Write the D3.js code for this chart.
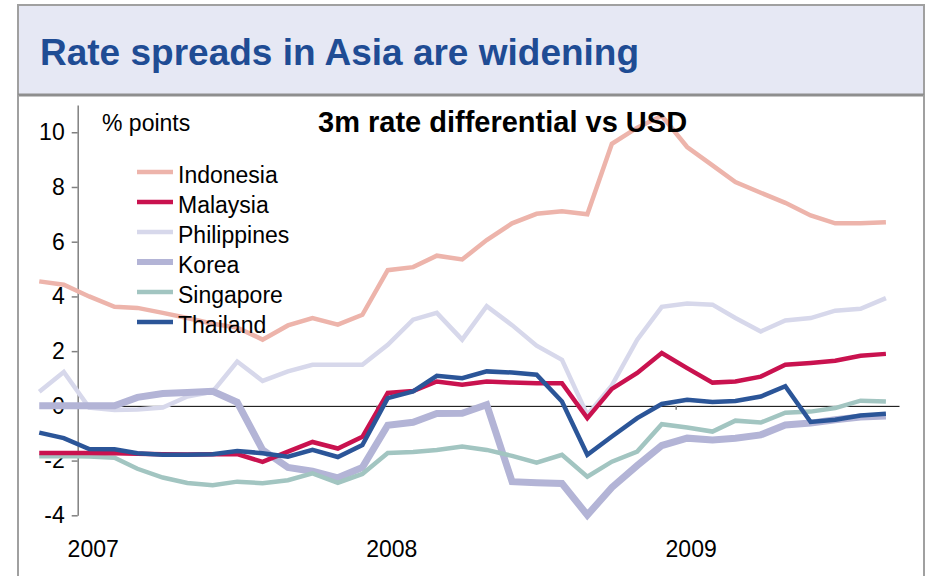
<!DOCTYPE html>
<html>
<head>
<meta charset="utf-8">
<script src="https://cdn.jsdelivr.net/npm/d3@7"></script>
<style>
  html, body { margin: 0; padding: 0; background: #ffffff; }
  svg { display: block; font-family: Arial, "Liberation Sans", Helvetica, sans-serif; }
</style>
</head>
<body>
<svg id="chart" width="927" height="576"></svg>
<script>
// Monthly observations, Nov 2006 to Sep 2009 (plotted mid-month)
const months = d3.timeMonth.range(new Date(2006, 10, 1), new Date(2009, 9, 1));

const indonesia = [4.55, 4.43, 4.0, 3.62, 3.58, 3.4, 3.21, 3.0, 2.86, 2.42, 2.94, 3.21, 2.97, 3.33, 4.96, 5.07, 5.49, 5.35, 6.06, 6.67, 7.02, 7.11, 7.0, 9.58, 10.17, 10.6, 9.46, 8.79, 8.18, 7.79, 7.42, 6.96, 6.67, 6.67, 6.71];
const malaysia = [-1.72, -1.72, -1.72, -1.73, -1.75, -1.77, -1.78, -1.77, -1.76, -2.05, -1.67, -1.32, -1.56, -1.13, 0.47, 0.54, 0.89, 0.77, 0.89, 0.85, 0.83, 0.83, -0.45, 0.62, 1.2, 1.93, 1.38, 0.85, 0.89, 1.07, 1.5, 1.57, 1.65, 1.83, 1.9];
const philippines = [0.52, 1.24, -0.06, -0.15, -0.13, -0.06, 0.34, 0.52, 1.62, 0.91, 1.26, 1.5, 1.5, 1.5, 2.23, 3.15, 3.4, 2.42, 3.64, 2.95, 2.2, 1.68, -0.33, 0.75, 2.42, 3.62, 3.74, 3.7, 3.21, 2.72, 3.12, 3.21, 3.48, 3.55, 3.94];
const korea = [0, 0, 0, 0, 0.31, 0.45, 0.49, 0.53, 0.13, -1.61, -2.25, -2.39, -2.63, -2.25, -0.71, -0.6, -0.28, -0.27, 0.04, -2.77, -2.81, -2.84, -3.99, -2.98, -2.18, -1.45, -1.18, -1.25, -1.18, -1.06, -0.7, -0.63, -0.51, -0.41, -0.37];
const singapore = [-1.84, -1.83, -1.85, -1.9, -2.3, -2.62, -2.82, -2.9, -2.77, -2.83, -2.72, -2.47, -2.81, -2.49, -1.72, -1.69, -1.61, -1.49, -1.61, -1.83, -2.08, -1.79, -2.59, -2.04, -1.67, -0.67, -0.79, -0.94, -0.54, -0.61, -0.25, -0.21, -0.08, 0.19, 0.16];
const thailand = [-0.98, -1.18, -1.58, -1.59, -1.73, -1.79, -1.79, -1.77, -1.65, -1.73, -1.86, -1.61, -1.87, -1.43, 0.28, 0.53, 1.1, 1.01, 1.26, 1.22, 1.14, 0.16, -1.79, -1.12, -0.45, 0.07, 0.22, 0.14, 0.18, 0.34, 0.72, -0.59, -0.51, -0.35, -0.29];

const yTicks = [-4, -2, 0, 2, 4, 6, 8, 10];
const yearTicks = [new Date(2007, 0, 1), new Date(2008, 0, 1), new Date(2009, 0, 1)];
const yearLabels = ["2007", "2008", "2009"];

const title = "Rate spreads in Asia are widening";
const subtitle = "3m rate differential vs USD";
const unitLabel = "% points";

// Series in legend order, with styles
const series = [
  { name: "Indonesia",   values: indonesia,   color: "#EDB4AB", width: 4.5 },
  { name: "Malaysia",    values: malaysia,    color: "#C9124F", width: 4.5 },
  { name: "Philippines", values: philippines, color: "#D7D8EB", width: 4.5 },
  { name: "Korea",       values: korea,       color: "#B3B4D6", width: 7 },
  { name: "Singapore",   values: singapore,   color: "#A2C5C1", width: 4.5 },
  { name: "Thailand",    values: thailand,    color: "#2B5598", width: 4.5 }
];
// Stacking order of the lines (back to front)
const drawOrder = ["Philippines", "Korea", "Indonesia", "Singapore", "Malaysia", "Thailand"];

const svg = d3.select("#chart");

// Frame: title band and panel borders
const frameL = 18, frameR = 924, bandTop = 5, bandBottom = 95;
svg.append("rect")
  .attr("x", frameL).attr("y", bandTop)
  .attr("width", frameR - frameL).attr("height", bandBottom - bandTop)
  .attr("fill", "#E6E8F4").attr("stroke", "#A0A0A0").attr("stroke-width", 2);
svg.append("line")
  .attr("x1", frameL).attr("x2", frameR).attr("y1", bandBottom).attr("y2", bandBottom)
  .attr("stroke", "#8E8E8E").attr("stroke-width", 3);
svg.append("line")
  .attr("x1", frameL).attr("x2", frameL).attr("y1", bandBottom).attr("y2", 576)
  .attr("stroke", "#A0A0A0").attr("stroke-width", 2);
svg.append("line")
  .attr("x1", frameR).attr("x2", frameR).attr("y1", bandBottom).attr("y2", 576)
  .attr("stroke", "#A0A0A0").attr("stroke-width", 2);

svg.append("text")
  .attr("x", 40).attr("y", 65)
  .attr("font-size", 37).attr("font-weight", "bold")
  .attr("fill", "#1F4C94")
  .text(title);

// Scales
const x = d3.scaleTime()
  .domain([new Date(2007, 0, 1), new Date(2009, 9, 1)])
  .range([77.7, 899]);
const y = d3.scaleLinear().domain([-4, 11]).range([515.3, 104.9]);

const midMonth = d => d3.timeDay.offset(d, 14);

// Y axis (plain hyphen for negative numbers)
const yAxis = svg.append("g")
  .attr("transform", `translate(${x(new Date(2007, 0, 1))},0)`)
  .call(d3.axisLeft(y).tickValues(yTicks).tickSize(6).tickSizeOuter(0).tickPadding(7)
    .tickFormat(d => String(d)));
yAxis.select(".domain").attr("stroke", "#808080").attr("stroke-width", 1.5);
yAxis.selectAll(".tick line").attr("stroke", "#808080").attr("stroke-width", 1.5);
yAxis.selectAll(".tick text")
  .attr("font-size", 23).attr("fill", "#000")
  .attr("font-family", "Arial, 'Liberation Sans', sans-serif");

// Zero line with year ticks
const xAxis = svg.append("g")
  .attr("transform", `translate(0,${y(0)})`)
  .call(d3.axisBottom(x).tickValues(yearTicks.slice(1)).tickSize(4).tickSizeOuter(0).tickFormat(""));
xAxis.select(".domain").attr("stroke", "#000").attr("stroke-width", 1);
xAxis.selectAll(".tick line").attr("stroke", "#777").attr("stroke-width", 1.5);

// Year labels along the bottom
svg.append("g").selectAll("text")
  .data(yearTicks)
  .join("text")
  .attr("x", d => x(d) + 15.5)
  .attr("y", 557)
  .attr("text-anchor", "middle")
  .attr("font-size", 23)
  .attr("fill", "#000")
  .text((d, i) => yearLabels[i]);

// Lines
const line = d3.line()
  .x((d, i) => x(midMonth(months[i])))
  .y(d => y(d));

const byName = new Map(series.map(s => [s.name, s]));
svg.append("g")
  .selectAll("path")
  .data(drawOrder.map(n => byName.get(n)))
  .join("path")
  .attr("d", s => line(s.values))
  .attr("fill", "none")
  .attr("stroke", s => s.color)
  .attr("stroke-width", s => s.width)
  .attr("stroke-linejoin", "miter")
  .attr("stroke-linecap", "butt");

// Unit label and chart heading
svg.append("text")
  .attr("x", 102).attr("y", 131)
  .attr("font-size", 23).attr("fill", "#000")
  .text(unitLabel);
svg.append("text")
  .attr("x", 318).attr("y", 132)
  .attr("font-size", 29).attr("font-weight", "bold").attr("fill", "#000")
  .text(subtitle);

// Legend
const legend = svg.append("g").attr("transform", "translate(137,172)");
const item = legend.selectAll("g")
  .data(series)
  .join("g")
  .attr("transform", (d, i) => `translate(0,${i * 30})`);
item.append("line")
  .attr("x1", 0).attr("x2", 36)
  .attr("stroke", d => d.color)
  .attr("stroke-width", d => d.name === "Korea" ? 6 : 4.5);
item.append("text")
  .attr("x", 41).attr("y", 11)
  .attr("font-size", 23).attr("fill", "#000")
  .text(d => d.name);
</script>
</body>
</html>
